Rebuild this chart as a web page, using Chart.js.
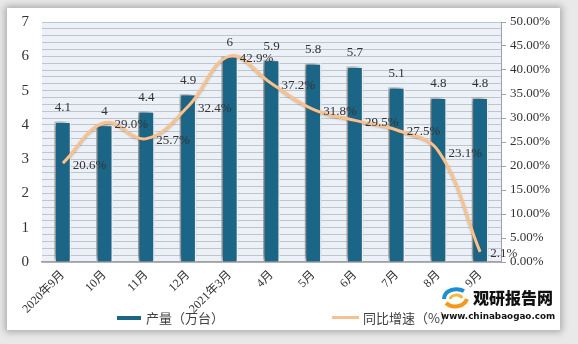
<!DOCTYPE html>
<html>
<head>
<meta charset="utf-8">
<script src="https://cdn.jsdelivr.net/npm/chart.js@4/dist/chart.umd.min.js"></script>
<style>
  html, body { margin:0; padding:0; }
  body { width:578px; height:344px; background:#e9e9e9; position:relative; overflow:hidden; font-family:"Liberation Serif","Noto Sans CJK SC",serif; }
  #panel { position:absolute; left:7px; top:8px; width:553px; height:322px; background:#fff; box-shadow:0 0 7px 2px rgba(0,0,0,0.28); }
  #wrap { position:absolute; left:0; top:0; width:578px; height:344px; }
  .lg { position:absolute; font-family:"Noto Sans CJK SC",sans-serif; font-size:13px; color:#404040; line-height:16px; }
  .sw { position:absolute; }
  #logo1 { position:absolute; left:473px; top:287px; font-family:"Noto Sans CJK SC",sans-serif; font-weight:900; font-size:16px; color:#111; line-height:20px; }
  #logo2 { position:absolute; left:441px; top:311px; font-family:"DejaVu Sans",sans-serif; font-weight:bold; font-size:8.8px; color:#111; line-height:11px; }
</style>
</head>
<body>
<div id="panel"></div>
<div id="wrap"><canvas id="c" width="578" height="344"></canvas></div>
<div class="sw" style="left:117px;top:316px;width:24px;height:4px;background:#1b6586;"></div>
<div class="lg" style="left:146px;top:310px;">产量（万台）</div>
<div class="sw" style="left:332px;top:316px;width:27px;height:3px;background:#f8c190;"></div>
<div class="lg" style="left:363px;top:310px;">同比增速（%）</div>
<svg style="position:absolute;left:440px;top:285px;" width="30" height="25" viewBox="0 0 30 25">
  <path d="M4 14 C4 5, 16 2, 24 6" stroke="#1b8fd0" stroke-width="4" fill="none"/>
  <path d="M6 18 C12 24, 24 22, 27 14" stroke="#f29a1f" stroke-width="4" fill="none"/>
  <path d="M10 14 C12 9, 20 9, 22 13" stroke="#f6b73c" stroke-width="3" fill="none"/>
</svg>
<div id="logo1">观研报告网</div>
<div id="logo2">www.chinabaogao.com</div>
<script>
const categories = ["2020年9月","10月","11月","12月","2021年3月","4月","5月","6月","7月","8月","9月"];
const output = [4.1, 4, 4.4, 4.9, 6, 5.9, 5.8, 5.7, 5.1, 4.8, 4.8];
const growth = [20.6, 29.0, 25.7, 32.4, 42.9, 37.2, 31.8, 29.5, 27.5, 23.1, 2.1];
const outputLabels = ["4.1","4","4.4","4.9","6","5.9","5.8","5.7","5.1","4.8","4.8"];
const growthLabels = ["20.6%","29.0%","25.7%","32.4%","42.9%","37.2%","31.8%","29.5%","27.5%","23.1%","2.1%"];

const numFont = '"Liberation Serif","Noto Sans CJK SC",serif';

const plotBg = {
  id:'plotBg',
  beforeDraw(chart){
    const {ctx, chartArea:a} = chart;
    ctx.save();
    ctx.fillStyle = '#ecf1f7';
    ctx.fillRect(a.left, a.top, a.right-a.left, a.bottom-a.top);
    ctx.restore();
  }
};
const shadow = {
  id:'shadow',
  beforeDatasetDraw(chart, args){
    const ctx = chart.ctx;
    ctx.save();
    if (args.index === 0) {
      ctx.shadowColor = 'rgba(0,0,0,0.55)';
      ctx.shadowBlur = 6;
      ctx.shadowOffsetX = -3;
      ctx.shadowOffsetY = -1;
    } else {
      ctx.shadowColor = 'rgba(120,80,40,0.35)';
      ctx.shadowBlur = 2;
      ctx.shadowOffsetX = 0;
      ctx.shadowOffsetY = 1;
    }
  },
  afterDatasetDraw(chart){ chart.ctx.restore(); }
};
const labels = {
  id:'labels',
  afterDatasetsDraw(chart){
    const ctx = chart.ctx;
    ctx.save();
    ctx.font = '13px ' + numFont;
    ctx.fillStyle = '#333';
    const m0 = chart.getDatasetMeta(0);
    m0.data.forEach((el,i)=>{
      ctx.textAlign='center'; ctx.textBaseline='bottom';
      ctx.fillText(outputLabels[i], el.x, el.y - 7);
    });
    const m1 = chart.getDatasetMeta(1);
    m1.data.forEach((el,i)=>{
      ctx.textAlign='left'; ctx.textBaseline='middle';
      ctx.fillText(growthLabels[i], el.x + 10, el.y + 2);
    });
    ctx.restore();
  }
};

new Chart(document.getElementById('c'), {
  data: {
    labels: categories,
    datasets: [
      { type:'bar', label:'产量（万台）', data: output, yAxisID:'y',
        backgroundColor:'#1b6586', borderColor:'#ffffff', borderWidth:1.5,
        barPercentage:0.4, categoryPercentage:1, order:2 },
      { type:'line', label:'同比增速（%）', data: growth, yAxisID:'y1',
        borderColor:'#f8c190', backgroundColor:'#f8c190', borderWidth:3,
        pointRadius:0, tension:0.4, order:1 }
    ]
  },
  options: {
    responsive:false, animation:false,
    layout:{ padding:{ left:0, right:0, top:16, bottom:0 } },
    plugins:{ legend:{display:false}, tooltip:{enabled:false} },
    scales:{
      x:{
        grid:{ display:true, color:'rgba(0,0,0,0)', drawTicks:false },
        border:{ display:true, color:'#a0a0a0', width:1.5 },
        ticks:{ maxRotation:45, minRotation:45, padding:6, color:'#333', font:{ family:numFont, size:12 }, autoSkip:false },
        afterFit(s){ s.height = 82; }
      },
      y:{
        position:'left', min:0, max:7,
        grid:{ color:'#bfc5cc', drawTicks:false, lineWidth:1 },
        border:{ display:false },
        ticks:{ stepSize:0.2, autoSkip:false, padding:13, color:'#333', font:{ family:numFont, size:15 },
          callback:(v)=> Math.abs(v-Math.round(v))<1e-6 ? String(Math.round(v)) : '' },
        afterFit(s){ s.width = 42; }
      },
      y1:{
        position:'right', min:0, max:50,
        grid:{ drawOnChartArea:false, color:'#a0a0a0', tickLength:5 },
        border:{ display:true, color:'#a0a0a0', width:1 },
        ticks:{ stepSize:5, padding:4, color:'#333', font:{ family:numFont, size:13 },
          callback:(v)=> v.toFixed(2)+'%' },
        afterFit(s){ s.width = 77; }
      }
    }
  },
  plugins:[plotBg, shadow, labels]
});
</script>
</body>
</html>
